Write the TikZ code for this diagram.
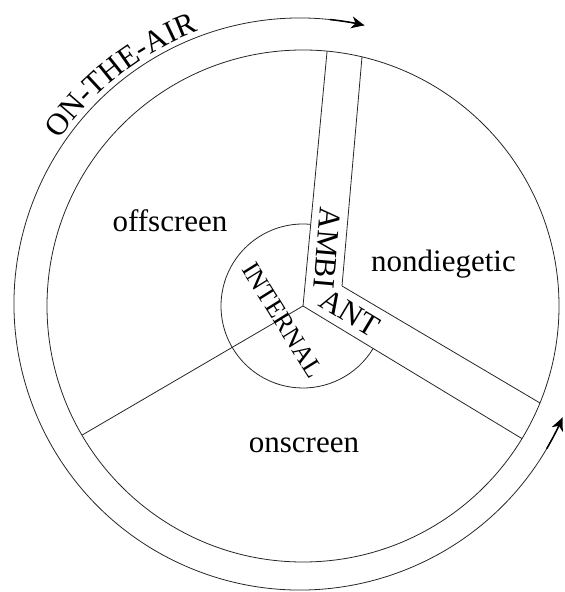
\documentclass[tikz,border=0pt]{standalone}
\usepackage{fontspec}
\setmainfont{Liberation Serif}
\usetikzlibrary{arrows.meta,decorations.text}
\begin{document}
\begin{tikzpicture}[x=1pt,y=1pt,
  ln/.style={line width=0.8pt, draw=black!85},
  lbl/.style={font=\fontsize{31}{36}\selectfont, inner sep=0pt},
  sml/.style={font=\fontsize{26}{30}\selectfont, inner sep=0pt},
  tipline/.style={-{Stealth[length=13pt,width=12pt,inset=4pt]}, line width=1.5pt, draw=black}]
\useasboundingbox (0,0) rectangle (565,592);
\coordinate (O) at (303,286);
\coordinate (P) at (300,288);
\coordinate (C) at (342,306);
\coordinate (Bt) at (362,535);
\coordinate (Br) at (540,189);
% main circle
\draw[ln] (O) circle[radius=256];
% spokes
\draw[ln] (O) -- ++(84.6:256);
\draw[ln] (O) -- ++(210.3:256);
\draw[ln] (O) -- ++(-31.2:256);
% second side of the ambient band
\draw[ln] (C) -- (Bt);
\draw[ln] (C) -- (Br);
% internal arc
\draw[ln] ([shift={(84.6:82)}]O) arc[start angle=84.6, end angle=328.8, radius=82];
% outer on-the-air arc
\draw[ln] ([shift={(-23.4:286)}]P) arc[start angle=-23.4, end angle=-283, radius=286];
\draw[tipline] ([shift={(-30.4:286)}]P) arc[start angle=-30.4, end angle=-23.4, radius=286];
\draw[tipline] ([shift={(84:286)}]P) arc[start angle=84, end angle=77, radius=286];
\path[decorate, decoration={text along path, text={|\fontsize{31}{36}\selectfont|ON-THE-AIR}, text align=center}]
  ([shift={(160:291)}]P) arc[start angle=160, end angle=96, radius=291];
% labels
\node[lbl, anchor=base] (off) at (170,360) {offscreen};
\node[lbl, anchor=base] (nond) at (443.5,320) {nondiegetic};
\node[lbl, anchor=base] (ons) at (304,139) {onscreen};
\node[lbl, rotate=-95] (ambi) at (327.5,344) {AMBI};
\node[lbl, rotate=-31] (ant) at (350,279) {ANT};
\node[sml, rotate=-58] (int) at (283,272) {INTERNAL};
\end{tikzpicture}
\end{document}
